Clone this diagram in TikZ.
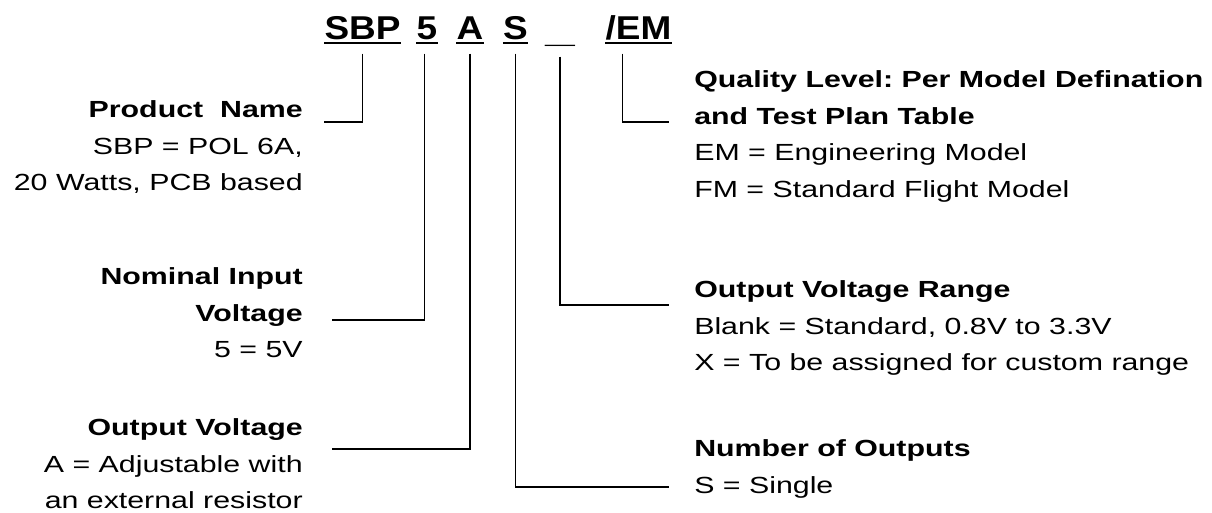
\documentclass[tikz,border=0pt]{standalone}
\usepackage{fontspec}
\setmainfont{Liberation Sans}
\usepackage{tikz}
\frenchspacing

\newcommand{\codetext}[1]{\scalebox{1.12}[1]{#1}}
\newcommand{\leftblock}[1]{\scalebox{1.3}[1]{\begin{tabular}{@{}r@{}}#1\end{tabular}}}
\newcommand{\rightblock}[1]{\scalebox{1.3}[1]{\begin{tabular}{@{}l@{}}#1\end{tabular}}}

\begin{document}
\begin{tikzpicture}[x=0.75pt,y=0.75pt,
  code/.style={inner sep=0pt,anchor=base,font=\fontsize{24.75}{30}\selectfont\bfseries},
  ul/.style={line width=2.2pt},
  conn/.style={line width=0.8pt},
  lefttext/.style={inner sep=0pt,anchor=north east,font=\fontsize{17.5}{27.4}\selectfont},
  righttext/.style={inner sep=0pt,anchor=north west,font=\fontsize{17.5}{27.4}\selectfont}]
\useasboundingbox (0,0) rectangle (1212,-512);

\node[code] (sbp) at (362.5,-39) {\codetext{SBP}};
\node[code] (five) at (427,-39) {\codetext{5}};
\node[code] (a) at (470,-39) {\codetext{A}};
\node[code] (s) at (515.5,-39) {\codetext{S}};
\node[code] (blank) at (560,-42) {\scalebox{1.6}[1]{\_}};
\node[code] (em) at (638.5,-39) {\codetext{/EM}};
\foreach \n in {sbp,five,a,s,em}
  \draw[ul] ([yshift=-3pt]\n.base west) -- ([yshift=-3pt]\n.base east);

\node[lefttext] (pname) at (303,-92) {\leftblock{\textbf{Product~~Name}\\SBP = POL 6A,\\20 Watts, PCB based}};
\node[lefttext] (ninput) at (303,-259) {\leftblock{\textbf{Nominal Input}\\\textbf{Voltage}\\5 = 5V}};
\node[lefttext] (outv) at (303,-410) {\leftblock{\textbf{Output Voltage}\\A = Adjustable with\\an external resistor}};
\node[righttext] (quality) at (694,-62) {\rightblock{\textbf{Quality Level: Per Model Defination}\\\textbf{and Test Plan Table}\\EM = Engineering Model\\FM = Standard Flight Model}};
\node[righttext] (range) at (694,-272) {\rightblock{\textbf{Output Voltage Range}\\Blank = Standard, 0.8V to 3.3V\\X = To be assigned for custom range}};
\node[righttext] (outputs) at (694,-431) {\rightblock{\textbf{Number of Outputs}\\S = Single}};

\coordinate (pname-end) at (324,-122);
\coordinate (ninput-end) at (332,-320);
\coordinate (outv-end) at (332,-449);
\coordinate (quality-end) at (669,-122);
\coordinate (range-end) at (669,-305);
\coordinate (outputs-end) at (669,-487);

\draw[conn] ([yshift=-11pt]sbp.base) |- (pname-end);
\draw[conn] ([xshift=-2pt,yshift=-11pt]five.base) |- (ninput-end);
\draw[conn] ([yshift=-11pt]a.base) |- (outv-end);
\draw[conn] ([yshift=-11pt]s.base) |- (outputs-end);
\draw[conn] ([yshift=-11pt]blank.base) |- (range-end);
\draw[conn] ([xshift=-12pt,yshift=-11pt]em.base) |- (quality-end);
\end{tikzpicture}
\end{document}
